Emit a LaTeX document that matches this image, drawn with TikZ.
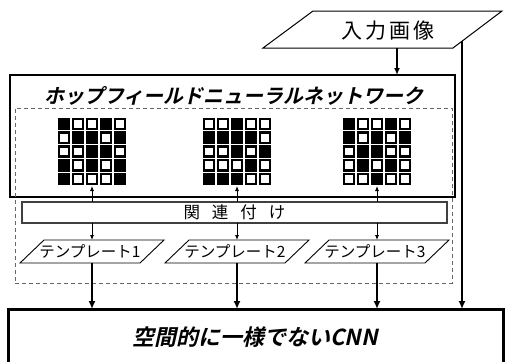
\documentclass[tikz,border=0pt]{standalone}
\usepackage{fontspec}
\setmainfont{Liberation Sans}
\newfontfamily\jp{Noto Sans CJK JP}
\newfontfamily\jpbi[FakeSlant=0.22]{Noto Sans CJK JP Bold}
\usetikzlibrary{arrows.meta}
\newcommand\drawgrid[2]{%
  \foreach \rowdata [count=\r] in {#2} {
    \foreach \v [count=\c] in \rowdata {
      \fill ({#1-35+(\c-1)*14+0.7},{117+(\r-1)*13.8+0.6}) rectangle ++(12.6,12.6);
      \ifnum\v=0
        \fill[white] ({#1-35+(\c-1)*14+3.1},{117+(\r-1)*13.8+3.0}) rectangle ++(7.8,7.8);
      \fi
    }
  }
}
\tikzset{
  ghost/.style={inner sep=0pt, outer sep=0pt},
  thinarr/.style={line width=0.8pt, -{Latex[length=5pt,width=4pt]}},
  midarr/.style={line width=1.8pt, -{Latex[length=7pt,width=6pt]}},
  thickarr/.style={line width=2.4pt, -{Latex[length=8pt,width=7pt]}},
  para/.style={line width=0.9pt},
  tmpltext/.style={font=\jp\fontsize{15.5}{17}\selectfont},
}
\begin{document}
\begin{tikzpicture}[x=1pt,y=-1pt]
\useasboundingbox (0,0) rectangle (507,362);

% input image parallelogram
\draw[para, line width=1pt] (313,11) -- (502,11) -- (453,48) -- (263,48) -- cycle;
\node[ghost, minimum width=140pt, minimum height=37pt] (inp) at (382.5,29.5) {};
\node[ghost, font=\jp\fontsize{21}{23}\selectfont] (inptext) at (388,30.5) {入\kern3pt 力\kern3pt 画\kern3pt 像};
\coordinate (inR) at (462,41.2);

% Hopfield box
\node[draw, line width=1.4pt, ghost, minimum width=445pt, minimum height=122pt] (hop) at (232.5,136) {};
\node[ghost, font=\jpbi\fontsize{20}{22}\selectfont] (hoptitle) at (234,96) {ホップフィールドニューラルネットワーク};

% dashed group box
\node[draw=gray!80!black, dash pattern=on 4pt off 3pt, line width=1pt, ghost, minimum width=437pt, minimum height=175pt] (grp) at (233.5,195.5) {};

% grids
\drawgrid{92}{{1,0,0,1,0},{0,1,1,0,1},{0,0,1,1,0},{1,0,1,0,1},{1,0,0,0,1}}
\drawgrid{237}{{0,0,1,0,0},{1,1,1,1,0},{0,0,1,0,1},{0,0,0,1,0},{1,1,1,0,0}}
\drawgrid{377}{{1,0,0,1,0},{1,0,1,0,1},{0,1,1,0,0},{0,1,0,1,0},{0,0,1,0,0}}
\node[ghost, minimum width=70pt, minimum height=69pt] (g1) at (92,151.5) {};
\node[ghost, minimum width=70pt, minimum height=69pt] (g2) at (237,151.5) {};
\node[ghost, minimum width=70pt, minimum height=69pt] (g3) at (377,151.5) {};

% relation box
\node[draw=black!75, line width=1.2pt, fill=white, ghost, minimum width=425pt, minimum height=21pt,
      font=\jp\fontsize{16.5}{18}\selectfont] (rel) at (234.5,212.5) {関\kern12pt 連\kern12pt 付\kern12pt け};

% templates
\foreach \c/\n in {92/1,237/2,377/3} {
  \draw[para] (\c-48,240) -- (\c+72,240) -- (\c+48,263) -- (\c-72,263) -- cycle;
  \node[ghost, minimum width=100pt, minimum height=23pt, tmpltext] (t\n) at (\c,251.5) {\kern-4pt テンプレート\n};
}

% CNN box
\node[draw, line width=3pt, ghost, minimum width=495pt, minimum height=57pt] (cnn) at (255.5,337.5) {};
\node[ghost, font=\jpbi\fontsize{22}{24}\selectfont] (cnntext) at (255,337) {空間的に一様でないCNN};

% connectors
\draw[midarr] ([xshift=14.5pt]inp.south) -- ([xshift=14.5pt]inp.south |- hop.north);
\draw[thickarr] (inR) -- (inR |- cnn.north);
\foreach \n in {1,2,3} {
  \draw[thinarr] (rel.north -| g\n.south) -- (g\n.south);
  \draw[thinarr] (rel.south -| t\n.north) -- (t\n.north);
  \draw[thickarr] (t\n.south) -- (t\n.south |- cnn.north);
}
\end{tikzpicture}
\end{document}
